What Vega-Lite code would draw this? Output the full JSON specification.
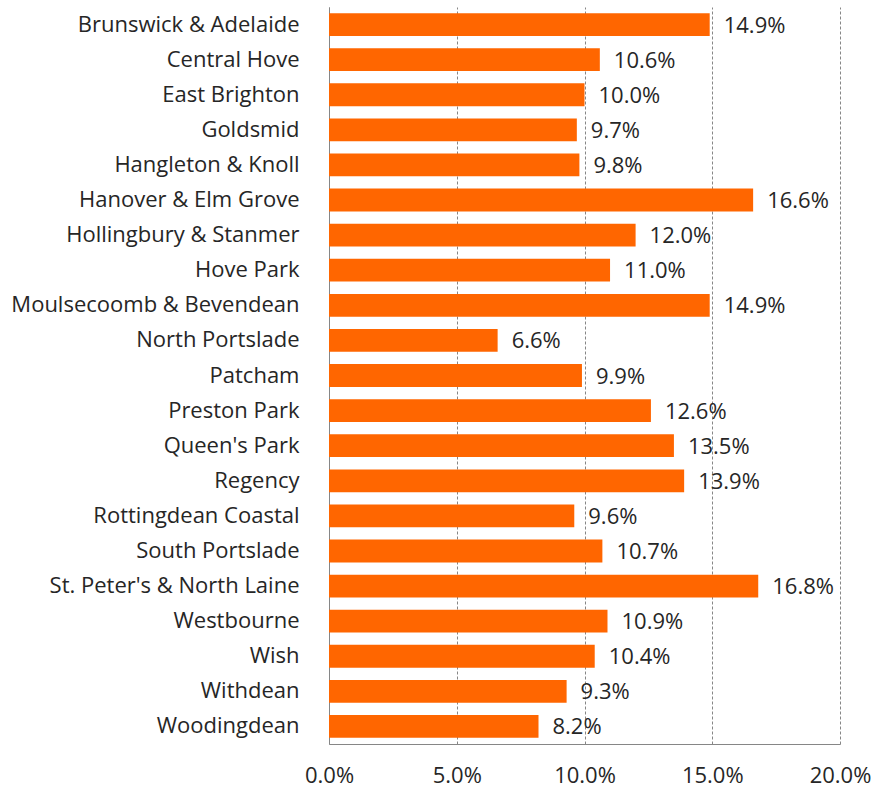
{
  "$schema": "https://vega.github.io/schema/vega-lite/v6.json",
  "width": 511,
  "height": 737,
  "autosize": {"type": "none"},
  "padding": {"left": 329, "top": 7, "right": 34, "bottom": 45},
  "background": "white",
  "config": {
    "view": {"stroke": null},
    "font": "Open Sans",
    "axis": {"labelFont": "Open Sans", "labelColor": "#262626"}
  },
  "data": {
    "values": [
      {"ward": "Brunswick & Adelaide", "v": 0.149},
      {"ward": "Central Hove", "v": 0.106},
      {"ward": "East Brighton", "v": 0.100},
      {"ward": "Goldsmid", "v": 0.097},
      {"ward": "Hangleton & Knoll", "v": 0.098},
      {"ward": "Hanover & Elm Grove", "v": 0.166},
      {"ward": "Hollingbury & Stanmer", "v": 0.120},
      {"ward": "Hove Park", "v": 0.110},
      {"ward": "Moulsecoomb & Bevendean", "v": 0.149},
      {"ward": "North Portslade", "v": 0.066},
      {"ward": "Patcham", "v": 0.099},
      {"ward": "Preston Park", "v": 0.126},
      {"ward": "Queen's Park", "v": 0.135},
      {"ward": "Regency", "v": 0.139},
      {"ward": "Rottingdean Coastal", "v": 0.096},
      {"ward": "South Portslade", "v": 0.107},
      {"ward": "St. Peter's & North Laine", "v": 0.168},
      {"ward": "Westbourne", "v": 0.109},
      {"ward": "Wish", "v": 0.104},
      {"ward": "Withdean", "v": 0.093},
      {"ward": "Woodingdean", "v": 0.082}
    ]
  },
  "encoding": {
    "y": {
      "field": "ward",
      "type": "nominal",
      "sort": null,
      "scale": {"paddingInner": 0.35, "paddingOuter": 0.175},
      "axis": {
        "title": null,
        "ticks": false,
        "domain": true,
        "domainColor": "#868686",
        "labelFontSize": 22,
        "labelLimit": 0,
        "labelPadding": 30,
        "labelColor": "#262626"
      }
    },
    "x": {
      "field": "v",
      "type": "quantitative",
      "scale": {"domain": [0, 0.2], "nice": false},
      "axis": {
        "title": null,
        "format": ".1%",
        "values": [0, 0.05, 0.1, 0.15, 0.2],
        "ticks": false,
        "domain": true,
        "domainColor": "#868686",
        "grid": true,
        "gridColor": "#868686",
        "gridDash": [3, 2],
        "gridWidth": 1,
        "labelFontSize": 22,
        "labelPadding": 21,
        "labelColor": "#262626",
        "labelFlush": false
      }
    }
  },
  "layer": [
    {"mark": {"type": "bar", "color": "#FF6600"}},
    {
      "mark": {"type": "text", "align": "left", "dx": 14, "dy": 1, "fontSize": 22, "color": "#262626", "font": "Open Sans"},
      "encoding": {"text": {"field": "v", "type": "quantitative", "format": ".1%"}}
    }
  ]
}
